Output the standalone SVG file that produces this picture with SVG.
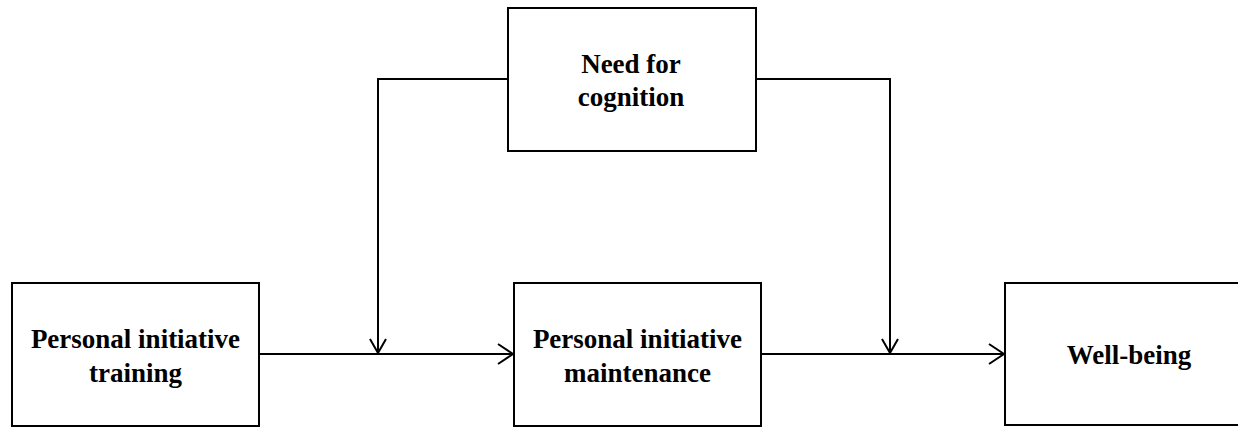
<svg xmlns="http://www.w3.org/2000/svg" width="1238" height="428" viewBox="0 0 1238 428">
<style>
.box{fill:#fff;stroke:#000;stroke-width:2}
.lbl{font-family:'Liberation Serif','Times New Roman',serif;font-weight:700;font-size:27px;fill:#000;text-anchor:middle}
.ln{fill:none;stroke:#000;stroke-width:2}
.ah{fill:none;stroke:#000;stroke-width:2}
</style>
<rect width="1238" height="428" fill="#fff"/>
<g id="connectors">
<polyline class="ln" points="259,354 513,354"/>
<polyline class="ah" points="498,344 513,354 498,364"/>
<polyline class="ln" points="761,354 1004,354"/>
<polyline class="ah" points="989,344 1004,354 989,364"/>
<polyline class="ln" points="508,79 378,79 378,353"/>
<polyline class="ah" points="370,339 378,353 386,339"/>
<polyline class="ln" points="756,79 890,79 890,353"/>
<polyline class="ah" points="882,339 890,353 898,339"/>
</g>
<g id="need">
<rect class="box" x="508" y="8" width="248" height="143"/>
<text class="lbl" x="631" y="73">Need for</text>
<text class="lbl" x="631" y="106">cognition</text>
</g>
<g id="training">
<rect class="box" x="12" y="283" width="247" height="143"/>
<text class="lbl" x="135.5" y="348">Personal initiative</text>
<text class="lbl" x="135.5" y="382">training</text>
</g>
<g id="maintenance">
<rect class="box" x="514" y="283" width="247" height="143"/>
<text class="lbl" x="637.5" y="348">Personal initiative</text>
<text class="lbl" x="637.5" y="382">maintenance</text>
</g>
<g id="wellbeing">
<rect class="box" x="1005" y="283" width="250" height="142"/>
<text class="lbl" x="1129" y="364">Well-being</text>
</g>
</svg>
